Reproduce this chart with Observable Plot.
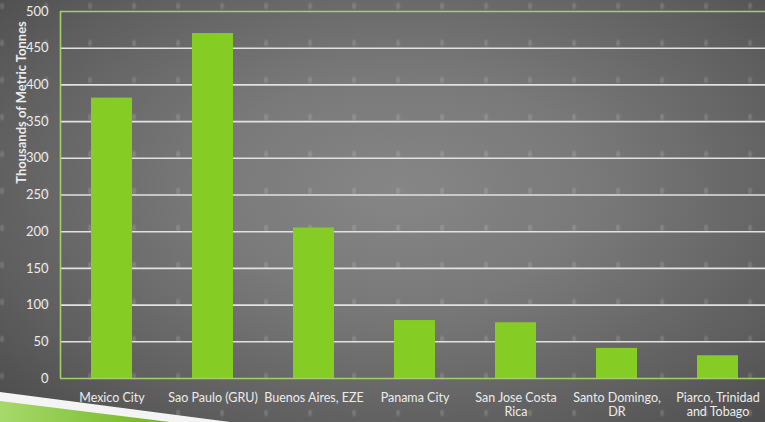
<!DOCTYPE html>
<html>
<head>
<meta charset="utf-8">
<script src="https://cdn.jsdelivr.net/npm/d3@7"></script>
<script src="https://cdn.jsdelivr.net/npm/@observablehq/plot@0.6"></script>
<style>
  html, body { margin: 0; padding: 0; }
  body { width: 765px; height: 422px; overflow: hidden; }
  #wrap {
    position: relative; width: 765px; height: 422px; overflow: hidden;
    background-color: #666;
    background-image:
      radial-gradient(ellipse 3px 4.5px at 2px 6px, rgba(255,255,255,0.13) 45%, rgba(255,255,255,0.0) 100%),
      radial-gradient(ellipse 560px 330px at 400px 190px, #868686 0%, #797979 35%, #5e5e5e 75%, #4a4a4a 100%);
    background-size: 44px 37px, 765px 422px;
    background-repeat: repeat, no-repeat;
  }
  #deco { position: absolute; left: 0; top: 0; }
  #chart { position: absolute; left: 0; top: 0; }
  #chart svg { background: transparent; }
</style>
</head>
<body>
<div id="wrap">
  <svg id="deco" width="765" height="422">
    <defs>
      <linearGradient id="sw" x1="0" y1="0" x2="1" y2="0">
        <stop offset="0" stop-color="#a6d96a"/>
        <stop offset="1" stop-color="#6fb51f"/>
      </linearGradient>
    </defs>
    <polygon points="0,392 230,422 0,422" fill="#f4f4f4"/>
    <polygon points="0,401 170,422 0,422" fill="url(#sw)"/>
  </svg>
  <div id="chart"></div>
</div>
<script>
const categories = ["Mexico City", "Sao Paulo (GRU)", "Buenos Aires, EZE", "Panama City", "San Jose Costa\nRica", "Santo Domingo,\nDR", "Piarco, Trinidad\nand Tobago"];
const values = [382, 470, 205, 79, 76, 41, 31];
const yTicks = [0, 50, 100, 150, 200, 250, 300, 350, 400, 450, 500];
const gridTicks = [50, 100, 150, 200, 250, 300, 350, 400, 450];
const yTitle = "Thousands of Metric Tonnes";

const data = categories.map((c, i) => ({category: c, value: values[i]}));
const green = "#a3cf6b";
const txt = "#ececec";

const chart = Plot.plot({
  width: 765,
  height: 422,
  marginTop: 11,
  marginBottom: 44,
  marginLeft: 60,
  marginRight: 0,
  style: {background: "transparent", color: txt, fontFamily: "Lato, 'Open Sans', sans-serif", fontSize: "13px"},
  x: {domain: categories, range: [60, 769], paddingInner: 0.595, paddingOuter: 0.2975, label: null},
  y: {domain: [0, 500], label: null},
  marks: [
    Plot.ruleY(gridTicks, {stroke: "#e2e2e2", strokeWidth: 1.6}),
    Plot.barY(data, {x: "category", y: "value", fill: "#85cc24"}),
    Plot.ruleY([0, 500], {stroke: green, strokeWidth: 1.6}),
    Plot.axisY({ticks: yTicks, tickSize: 0, tickPadding: 12, fill: txt, fontSize: 13, label: null}),
    Plot.axisX({tickSize: 0, tickPadding: 14, fill: txt, fontSize: 12.5, label: null, lineHeight: 1.12}),
    Plot.text([yTitle], {frameAnchor: "top-left", text: d => d, rotate: -90, textAnchor: "middle", dx: -44, dy: 91, fontWeight: "bold", fontSize: 13, fill: txt})
  ]
});
document.getElementById("chart").appendChild(chart);

// left green axis line at the start of the band range
d3.select(chart).append("line")
  .attr("x1", 60.5).attr("x2", 60.5).attr("y1", 11).attr("y2", 378)
  .attr("stroke", green).attr("stroke-width", 1.6);
</script>
</body>
</html>
